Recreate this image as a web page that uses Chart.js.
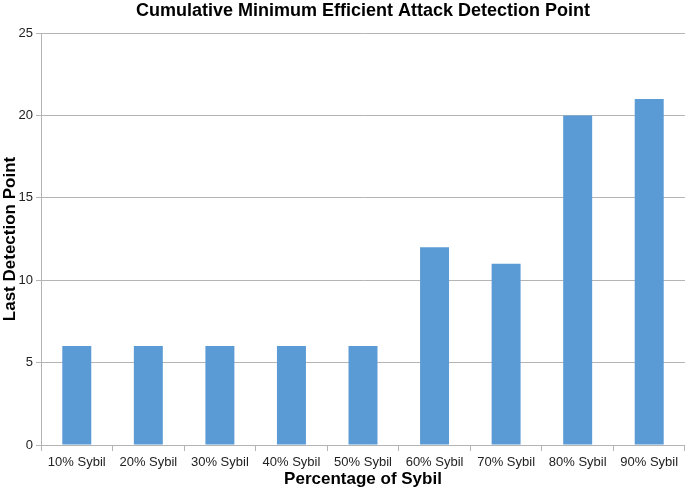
<!DOCTYPE html>
<html>
<head>
<meta charset="utf-8">
<script src="https://cdn.jsdelivr.net/npm/chart.js@4/dist/chart.umd.min.js"></script>
<style>
  html, body { margin: 0; padding: 0; background: #ffffff; }
  #wrap { width: 685px; height: 492px; }
</style>
</head>
<body>
<div id="wrap"><canvas id="c" width="685" height="492"></canvas></div>
<script>
const chartTitle = "Cumulative Minimum Efficient Attack Detection Point";
const categories = ["10% Sybil", "20% Sybil", "30% Sybil", "40% Sybil", "50% Sybil", "60% Sybil", "70% Sybil", "80% Sybil", "90% Sybil"];
const detectionValues = [6, 6, 6, 6, 6, 12, 11, 20, 21];
const yTicks = [0, 5, 10, 15, 20, 25];
const xAxisTitle = "Percentage of Sybil";
const yAxisTitle = "Last Detection Point";

const titlePlugin = {
  id: 'customTitle',
  afterDraw(chart) {
    const ctx = chart.ctx;
    ctx.save();
    ctx.font = 'bold 18px "Liberation Sans", Arial, sans-serif';
    ctx.fillStyle = '#000000';
    ctx.textAlign = 'center';
    ctx.textBaseline = 'middle';
    const area = chart.chartArea;
    ctx.fillText(chartTitle, (area.left + area.right) / 2, 11.5);
    ctx.restore();
  }
};

new Chart(document.getElementById('c'), {
  type: 'bar',
  data: {
    labels: categories,
    datasets: [{
      data: detectionValues,
      backgroundColor: '#5B9BD5',
      borderWidth: 0,
      barPercentage: 0.405,
      categoryPercentage: 1.0
    }]
  },
  options: {
    responsive: false,
    devicePixelRatio: 1,
    animation: false,
    layout: { padding: { top: 33, right: 0, left: 0, bottom: 0 } },
    plugins: {
      legend: { display: false },
      title: { display: false },
      tooltip: { enabled: false }
    },
    scales: {
      x: {
        offset: true,
        grid: {
          offset: true,
          drawOnChartArea: false,
          drawTicks: true,
          tickLength: 6,
          color: '#b4b4b4'
        },
        border: { color: '#b4b4b4', width: 1 },
        ticks: {
          font: { family: '"Liberation Sans", Arial, sans-serif', size: 13 },
          color: '#222222',
          padding: 4,
          maxRotation: 0,
          autoSkip: false
        },
        title: {
          display: true,
          text: xAxisTitle,
          font: { family: '"Liberation Sans", Arial, sans-serif', size: 17, weight: 'bold' },
          color: '#000000',
          padding: { top: 0, bottom: 2 }
        },
        afterFit(scale) { scale.height = 47; }
      },
      y: {
        min: 0,
        max: 25,
        afterBuildTicks(scale) { scale.ticks = yTicks.map(v => ({ value: v })); },
        grid: {
          color: '#b4b4b4',
          drawTicks: true,
          tickLength: 5
        },
        border: { color: '#b4b4b4', width: 1 },
        ticks: {
          font: { family: '"Liberation Sans", Arial, sans-serif', size: 13 },
          color: '#222222',
          padding: 3
        },
        title: {
          display: true,
          text: yAxisTitle,
          font: { family: '"Liberation Sans", Arial, sans-serif', size: 17, weight: 'bold' },
          color: '#000000',
          padding: { top: 0, bottom: 0 }
        },
        afterFit(scale) { scale.width = 41; }
      }
    }
  },
  plugins: [titlePlugin]
});
</script>
</body>
</html>
